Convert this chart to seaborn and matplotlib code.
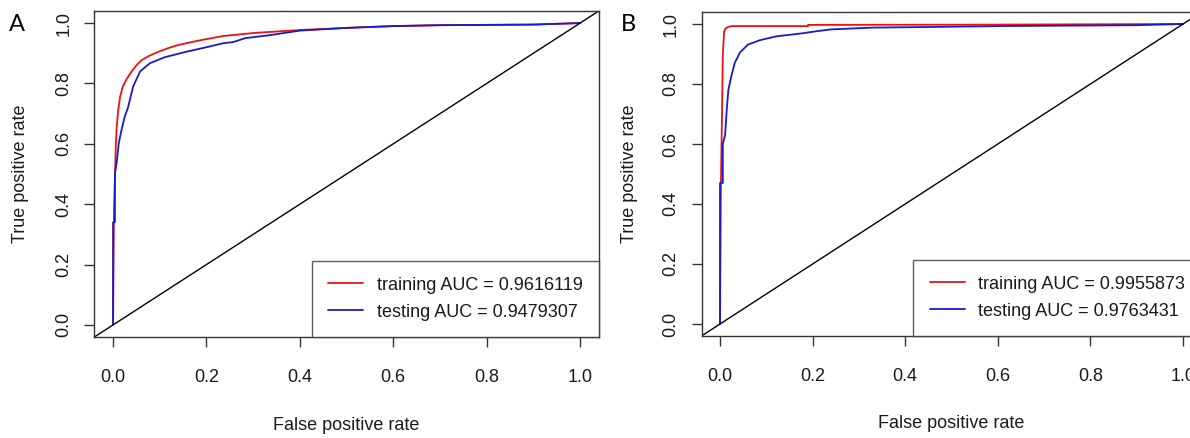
import pandas as pd
import seaborn as sns
import matplotlib.pyplot as plt

# ROC points (false positive rate, true positive rate)
a_train_fpr = [0, 0.002, 0.004, 0.006, 0.008, 0.011, 0.015, 0.021, 0.03, 0.04, 0.05, 0.061, 0.078,
               0.096, 0.118, 0.139, 0.165, 0.19, 0.235, 0.3, 0.4, 0.5, 0.6, 0.7, 0.9, 1.0]
a_train_tpr = [0, 0.38, 0.49, 0.60, 0.66, 0.71, 0.755, 0.79, 0.817, 0.84, 0.86, 0.877, 0.892,
               0.904, 0.917, 0.927, 0.936, 0.944, 0.957, 0.967, 0.977, 0.984, 0.990, 0.993, 0.995, 1.0]
a_test_fpr = [0, 0, 0.004, 0.004, 0.008, 0.012, 0.018, 0.025, 0.032, 0.043, 0.058, 0.079, 0.111,
              0.154, 0.203, 0.235, 0.257, 0.283, 0.336, 0.4, 0.5, 0.6, 0.7, 0.9, 1.0]
a_test_tpr = [0, 0.34, 0.34, 0.50, 0.54, 0.60, 0.645, 0.69, 0.72, 0.79, 0.84, 0.867, 0.887,
              0.904, 0.921, 0.933, 0.937, 0.95, 0.96, 0.975, 0.984, 0.990, 0.993, 0.995, 1.0]

b_train_fpr = [0, 0.002, 0.004, 0.006, 0.009, 0.012, 0.017, 0.025, 0.19, 0.19, 0.6, 1.0]
b_train_tpr = [0, 0.48, 0.67, 0.898, 0.976, 0.985, 0.99, 0.993, 0.993, 0.997, 0.998, 1.0]
b_test_fpr = [0, 0, 0.006, 0.006, 0.011, 0.0145, 0.018, 0.025, 0.032, 0.043, 0.06, 0.086, 0.122,
              0.173, 0.209, 0.24, 0.33, 0.45, 0.6, 0.9, 1.0]
b_test_tpr = [0, 0.47, 0.47, 0.60, 0.63, 0.714, 0.78, 0.83, 0.871, 0.905, 0.931, 0.946, 0.959,
              0.968, 0.976, 0.982, 0.988, 0.99, 0.993, 0.996, 1.0]

a_labels = ['training AUC = 0.9616119', 'testing AUC = 0.9479307']
b_labels = ['training AUC = 0.9955873', 'testing AUC = 0.9763431']
ticks = [0.0, 0.2, 0.4, 0.6, 0.8, 1.0]
tick_labels = ['0.0', '0.2', '0.4', '0.6', '0.8', '1.0']

sns.set_style('white')
plt.rcParams['font.family'] = ['Liberation Sans', 'DejaVu Sans']

fig = plt.figure(figsize=(11.9, 4.38), dpi=100)
ax_a = fig.add_axes([0.0793, 0.2306, 0.4239, 0.7443])
ax_b = fig.add_axes([0.5895, 0.2329, 0.4202, 0.7397])


def roc_panel(ax, tr_fpr, tr_tpr, te_fpr, te_tpr, labels, letter, ylab_x, letter_x):
    train = pd.DataFrame({'fpr': tr_fpr, 'tpr': tr_tpr})
    test = pd.DataFrame({'fpr': te_fpr, 'tpr': te_tpr})
    sns.lineplot(data=train, x='fpr', y='tpr', sort=False, estimator=None,
                 color='#ee1111', linewidth=1.3, label=labels[0], ax=ax)
    sns.lineplot(data=test, x='fpr', y='tpr', sort=False, estimator=None,
                 color='#1a1ac8', linewidth=1.3, label=labels[1], ax=ax)
    ax.axline((0, 0), (1, 1), color='black', linewidth=1.0)

    ax.set_xlim(-0.04, 1.04)
    ax.set_ylim(-0.04, 1.04)
    ax.set_xticks(ticks, tick_labels)
    ax.set_yticks(ticks, tick_labels)
    ax.tick_params(axis='both', direction='out', length=7, width=1.0, color='#333333',
                   labelsize=13, labelcolor='#1a1a1a', bottom=True, left=True)
    ax.tick_params(axis='x', pad=16)
    ax.tick_params(axis='y', pad=9, labelrotation=90)
    for lab in ax.get_yticklabels():
        lab.set_va('center')
    for sp in ax.spines.values():
        sp.set_color('#333333')
        sp.set_linewidth(1.0)

    ax.set_xlabel('False positive rate', fontsize=13, color='#1a1a1a')
    ax.set_ylabel('True positive rate', fontsize=13, color='#1a1a1a')
    ax.xaxis.set_label_coords(0.5, -0.27)
    ax.xaxis.label.set_va('center')
    ax.yaxis.set_label_coords(ylab_x, 0.5)
    ax.yaxis.label.set_va('center')

    leg = ax.legend(loc='lower right', borderaxespad=0, fancybox=False, fontsize=13,
                    handlelength=1.95, handletextpad=0.75, borderpad=0.9, labelspacing=0.55,
                    frameon=True)
    leg.get_frame().set_edgecolor('#333333')
    leg.get_frame().set_linewidth(1.0)
    for t in leg.get_texts():
        t.set_color('#1a1a1a')
    ax.text(letter_x, 0.96, letter, transform=ax.transAxes, fontsize=17, family='Lato',
            color='black', ha='center', va='center')


roc_panel(ax_a, a_train_fpr, a_train_tpr, a_test_fpr, a_test_tpr, a_labels, 'A',
          -0.147, (17 - 94.3) / 504.4)
roc_panel(ax_b, b_train_fpr, b_train_tpr, b_test_fpr, b_test_tpr, b_labels, 'B',
          -0.143, (628 - 701.5) / 500)

fig.savefig('out.png', dpi=100)
